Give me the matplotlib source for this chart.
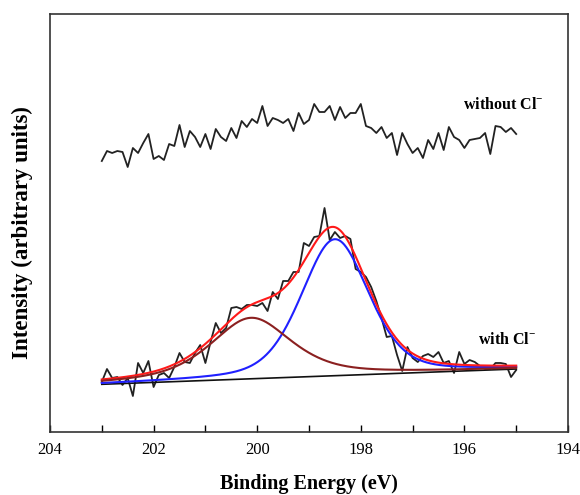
import numpy as np
import matplotlib
matplotlib.use("Agg")
import matplotlib.pyplot as plt
from matplotlib.ticker import MultipleLocator

plt.rcParams['font.family'] = ['Liberation Serif', 'DejaVu Serif']
plt.rcParams['mathtext.fontset'] = 'custom'
plt.rcParams['mathtext.rm'] = 'Liberation Serif:bold'
plt.rcParams['mathtext.bf'] = 'Liberation Serif:bold'

# Binding energy grid (eV), 203 -> 195 in 0.1 eV steps
energy = np.round(np.linspace(203.0, 195.0, 81), 2)

without_cl = [271, 281, 279, 281, 280, 265, 284, 279, 289, 298,
              273, 276, 272, 288, 286, 307, 285, 301, 295, 285,
              298, 283, 303, 295, 291, 304, 294, 311, 305, 313,
              309, 326, 306, 314, 312, 309, 313, 301, 319, 308,
              312, 328, 320, 320, 326, 312, 325, 314, 319, 319,
              328, 306, 304, 299, 305, 294, 299, 277, 299, 288,
              279, 284, 274, 292, 283, 299, 282, 305, 295, 292,
              284, 292, 293, 294, 299, 278, 306, 305, 300, 304, 298]

with_cl = [50, 63, 54, 55, 47, 54, 36, 69, 59, 71,
           45, 57, 59, 54, 65, 79, 70, 69, 79, 87,
           69, 90, 109, 99, 104, 124, 125, 123, 127, 127,
           126, 129, 121, 140, 133, 151, 151, 160, 160, 189,
           186, 195, 196, 224, 192, 200, 194, 196, 193, 163,
           160, 155, 145, 131, 114, 95, 96, 77, 61, 85,
           74, 70, 76, 78, 75, 80, 69, 71, 59, 80,
           68, 72, 70, 66, 63, 63, 69, 69, 68, 55, 62]

# Linear background end points (energy, intensity)
bg_energy = [203.0, 195.0]
bg_level = [47.7, 63.0]

# Fitted components: centre (eV), height, FWHM (eV), Lorentzian fraction
peak_main = dict(center=198.50, height=136.5, fwhm=1.54, eta=0.35)
peak_shoulder = dict(center=200.12, height=61.0, fwhm=1.86, eta=0.6)


def pseudo_voigt(x, center, height, fwhm, eta):
    hw = fwhm / 2.0
    g = np.exp(-np.log(2) * ((x - center) / hw) ** 2)
    l = 1.0 / (1.0 + ((x - center) / hw) ** 2)
    return height * (eta * l + (1 - eta) * g)


e_fine = np.linspace(203.0, 195.0, 801)
background = np.interp(e_fine, bg_energy[::-1], bg_level[::-1])
comp_main = background + pseudo_voigt(e_fine, **peak_main)
comp_sh = background + pseudo_voigt(e_fine, **peak_shoulder)
envelope = background + pseudo_voigt(e_fine, **peak_main) + pseudo_voigt(e_fine, **peak_shoulder)

fig = plt.figure(figsize=(5.8, 4.95), dpi=100)
ax = fig.add_axes([50 / 580, 1 - 432 / 495, 518 / 580, 418 / 495])

ax.plot(energy, without_cl, color='#222222', lw=1.3)
ax.plot(energy, with_cl, color='#222222', lw=1.3)
ax.plot(e_fine, background, color='#111111', lw=1.2)
ax.plot(e_fine, comp_main, color='#2020ff', lw=1.5)
ax.plot(e_fine, envelope, color='#ff1a1a', lw=1.5)
ax.plot(e_fine, comp_sh, color='#8b2020', lw=1.5)

ax.text(196.03, 327, 'without Cl$^{-}$', fontsize=11.5, fontweight='bold',
        ha='left', va='center')
ax.text(195.74, 92, 'with Cl$^{-}$', fontsize=11.5, fontweight='bold',
        ha='left', va='center')

ax.set_xlim(204, 194)
ax.set_ylim(0, 418)
ax.xaxis.set_major_locator(MultipleLocator(2))
ax.xaxis.set_minor_locator(MultipleLocator(1))
ax.tick_params(axis='x', which='both', direction='in', length=5, width=1.0,
               top=False, labelsize=12, pad=7)
ax.tick_params(axis='y', left=False, labelleft=False)
for s in ax.spines.values():
    s.set_linewidth(1.2)
    s.set_color('#333333')

ax.set_xlabel('Binding Energy (eV)', fontsize=14.5, fontweight='bold', labelpad=12)
ax.set_ylabel('Intensity (arbitrary units)', fontsize=16.5, fontweight='bold')
ax.yaxis.set_label_coords(-0.033, 0.478)

fig.savefig('out.png', dpi=100)
